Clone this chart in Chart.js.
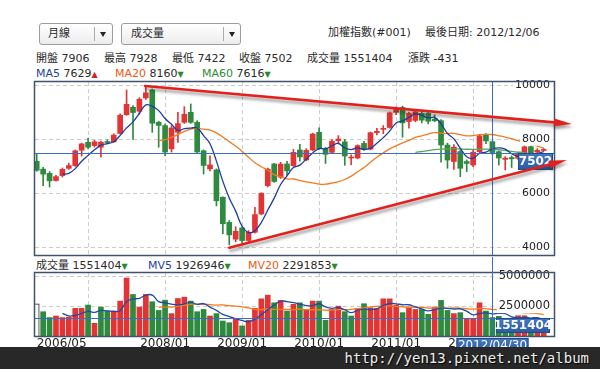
<!DOCTYPE html>
<html>
<head>
<meta charset="utf-8">
<script src="https://cdn.jsdelivr.net/npm/chart.js@4.4.1/dist/chart.umd.min.js"></script>
<style>
  body { margin: 0; width: 600px; height: 369px; overflow: hidden; background: #fff; position: relative;
         font-family: "DejaVu Sans", "Noto Sans CJK TC", sans-serif; font-size: 11px; color: #2a2a2a; }
  canvas { position: absolute; left: 0; top: 0; }
  .t { position: absolute; white-space: nowrap; line-height: 13px; }
  .sel { position: absolute; top: 23px; height: 20px; border: 1px solid #9c9c9c; border-radius: 3px;
         background: linear-gradient(#ffffff, #ececec); }
  .sel span { position: absolute; top: 3px; line-height: 13px; }
  .sel i { position: absolute; top: 3px; bottom: 3px; width: 1px; background: #aaa; }
  .sel b { position: absolute; top: 8px; width: 0; height: 0; border-left: 3.5px solid transparent;
           border-right: 3.5px solid transparent; border-top: 5px solid #222; }
  .blue { color: #1f3f9c; } .orange { color: #ee5a0e; } .green { color: #2f8a3a; }
  .up { color: #d42020; font-size: 8px; } .dn { color: #2a8a2a; font-size: 8px; }
  #banner { position: absolute; left: 0; top: 347px; width: 600px; height: 22px; background: #282828; z-index: 5; }
  #banner span { position: absolute; right: 11px; top: 2px; font-family: "DejaVu Sans Mono", monospace;
                 font-size: 14px; line-height: 18px; color: #eee; text-shadow: 1px 1px 1px #000; }
</style>
</head>
<body>
<div class="sel" style="left:39px;width:72px"><span style="left:8px">月線</span><i style="left:54px"></i><b style="left:60px"></b></div>
<div class="sel" style="left:121px;width:118px"><span style="left:9px">成交量</span><i style="left:101px"></i><b style="left:107px"></b></div>

<div class="t" style="left:328px;top:25.5px">加權指數(#001)</div>
<div class="t" style="left:425px;top:25.5px">最後日期: 2012/12/06</div>

<div class="t" style="left:36px;top:51.5px">開盤 7906</div>
<div class="t" style="left:104px;top:51.5px">最高 7928</div>
<div class="t" style="left:172px;top:51.5px">最低 7422</div>
<div class="t" style="left:239px;top:51.5px">收盤 7502</div>
<div class="t" style="left:307px;top:51.5px">成交量 1551404</div>
<div class="t" style="left:408px;top:51.5px">漲跌 -431</div>

<div class="t" style="left:36px;top:66.5px"><span class="blue">MA5</span> 7629<span class="up">▲</span></div>
<div class="t" style="left:115px;top:66.5px"><span class="orange">MA20</span> 8160<span class="dn">▼</span></div>
<div class="t" style="left:202px;top:66.5px"><span class="green">MA60</span> 7616<span class="dn">▼</span></div>

<div class="t" style="left:36px;top:258.5px">成交量 1551404<span class="dn">▼</span></div>
<div class="t" style="left:148px;top:258.5px"><span class="blue">MV5</span> 1926946<span class="dn">▼</span></div>
<div class="t" style="left:248px;top:258.5px"><span class="orange">MV20</span> 2291853<span class="dn">▼</span></div>

<canvas id="priceChart" width="600" height="369"></canvas>
<canvas id="volumeChart" width="600" height="369"></canvas>
<div id="banner"><span>http://yen13.pixnet.net/album</span></div>

<script>
// monthly candles, 2006/05 - 2012/12
const months = [
  '2006/05','2006/06','2006/07','2006/08','2006/09','2006/10','2006/11','2006/12',
  '2007/01','2007/02','2007/03','2007/04','2007/05','2007/06','2007/07','2007/08','2007/09','2007/10','2007/11','2007/12',
  '2008/01','2008/02','2008/03','2008/04','2008/05','2008/06','2008/07','2008/08','2008/09','2008/10','2008/11','2008/12',
  '2009/01','2009/02','2009/03','2009/04','2009/05','2009/06','2009/07','2009/08','2009/09','2009/10','2009/11','2009/12',
  '2010/01','2010/02','2010/03','2010/04','2010/05','2010/06','2010/07','2010/08','2010/09','2010/10','2010/11','2010/12',
  '2011/01','2011/02','2011/03','2011/04','2011/05','2011/06','2011/07','2011/08','2011/09','2011/10','2011/11','2011/12',
  '2012/01','2012/02','2012/03','2012/04','2012/05','2012/06','2012/07','2012/08','2012/09','2012/10','2012/11','2012/12'
];
const opens = [
  7180, 6890, 6735, 6470, 6650, 6920, 7020, 7590, 7880, 7760,
  7700, 7890, 7900, 8210, 8900, 9175, 9030, 9520, 9815, 8620,
  8500, 7640, 8250, 8620, 8990, 8620, 7570, 6900, 6860, 5850,
  4920, 4300, 4715, 4250, 4555, 5233, 6280, 7080, 6590, 7080,
  7020, 7598, 7230, 7600, 8250, 7635, 7510, 7940, 7900, 7300,
  7300, 7840, 7630, 8240, 8360, 8430, 8990, 9170, 8650, 8690,
  8950, 8950, 8740, 8680, 7780, 7170, 7540, 7170, 7040, 7535,
  8150, 7906, 7535, 7250, 7320, 7290, 7440, 7720, 7520, 7580
];
const highs = [
  7476, 6960, 6800, 6660, 6930, 7110, 7600, 7850, 8040, 7960,
  7930, 7970, 8200, 8930, 9815, 9240, 9530, 9940, 9850, 8660,
  8560, 8500, 8990, 9200, 9300, 8680, 7600, 7380, 6900, 5870,
  4990, 4760, 4760, 4620, 5480, 6020, 6930, 7100, 7140, 7180,
  7620, 7810, 7650, 8220, 8420, 7700, 7980, 8130, 7990, 7420,
  7790, 7920, 8260, 8400, 8500, 9000, 9180, 9220, 9000, 9080,
  9050, 9050, 8900, 8720, 7850, 7800, 7600, 7230, 7600, 8170,
  8200, 7928, 7560, 7350, 7380, 7520, 7780, 7760, 7650, 7660
];
const lows = [
  6810, 6280, 6230, 6440, 6600, 6880, 6990, 7370, 7640, 7700,
  7330, 7820, 7880, 8190, 8880, 7990, 8920, 9470, 8250, 7700,
  7380, 7520, 7880, 8580, 8580, 7500, 6710, 6820, 5530, 4500,
  4090, 4200, 4150, 4160, 4520, 5200, 6230, 6400, 6540, 6660,
  6990, 7180, 7200, 7570, 7620, 7100, 7480, 7850, 7030, 7050,
  7270, 7580, 7600, 8150, 8200, 8400, 8900, 8070, 8400, 8640,
  8600, 8560, 8640, 7150, 6920, 6880, 6610, 6800, 6980, 7500,
  7830, 7422, 7040, 6860, 6950, 7250, 7380, 7100, 7450, 7560
];
const closes = [
  6846, 6704, 6455, 6612, 6883, 7021, 7567, 7823, 7699, 7901,
  7884, 7875, 8145, 8883, 9287, 8982, 9476, 9711, 8586, 8506,
  7521, 8412, 8572, 8920, 8619, 7523, 7024, 7046, 5720, 4870,
  4460, 4591, 4248, 4557, 5210, 5993, 6890, 6432, 7077, 6826,
  7509, 7340, 7582, 8188, 7640, 7436, 7920, 8004, 7374, 7330,
  7760, 7616, 8237, 8287, 8372, 8972, 9120, 8600, 8950, 9010,
  8700, 8660, 8680, 7780, 7225, 7700, 6920, 7100, 7517, 8121,
  7933, 7502, 7301, 7296, 7270, 7450, 7715, 7300, 7590, 7610
];
const volumes = [
  2710000, 2040000, 1550000, 1680000, 1550000, 1590000, 2320000, 2320000, 2600000, 1070000,
  2430000, 2100000, 2100000, 2930000, 4870000, 3490000, 2430000, 3490000, 2880000, 2150000,
  3010000, 1880000, 3150000, 3260000, 2930000, 2040000, 2230000, 1680000, 1880000, 1260000,
  1120000, 1400000,  850000, 1320000, 2320000, 3120000, 3430000, 2790000, 2990000, 2100000,
  2660000, 2790000, 2230000, 2930000, 2930000, 1320000, 2230000, 2510000, 2040000, 1680000,
  2320000, 2710000, 2370000, 2320000, 3120000, 3120000, 2600000, 1960000, 2320000, 2230000,
  2230000, 1820000, 2430000, 2990000, 2150000, 1880000, 1960000, 1480000, 1400000, 2790000,
  2100000, 1551404, 1650000, 1320000, 1410000, 1700000, 1700000, 1410000, 1500000,  400000
];
const gridMonths = ['2007/01', '2008/01', '2009/01', '2010/01', '2011/01', '2012/01'];
const labelMonths = ['2006/05', '2008/01', '2009/01', '2010/01', '2011/01', '2012/01'];
const priceTicks = [4000, 6000, 8000, 10000];
const volumeTicks = [2500000, 5000000];
const cursorMonth = '2012/04';
const cursorDate = '2012/04/30';
// hand drawn trend lines: [month index, price]
const resistanceLine = [[16.9, 9963], [83.4, 8558]];
const supportLine = [[30.0, 3985], [82.6, 7227]];

const RED = '#e23434', GREEN = '#2e8a3e';
const cursor = months.indexOf(cursorMonth);
const gridIdx = gridMonths.map(m => months.indexOf(m));

function movingAvg(src, n) {
    return src.map((v, i) => i < n - 1 ? null : src.slice(i - n + 1, i + 1).reduce((a, b) => a + b, 0) / n);
}
function asPoints(arr) {
    return arr.map((v, i) => ({ x: i, y: v }));
}

const candleColor = closes.map((c, i) => c >= opens[i] ? RED : GREEN);
const volColor = closes.map((c, i) => i === 0 ? '#ffffff' : (c >= closes[i - 1] ? RED : GREEN));

const font11 = { family: 'DejaVu Sans', size: 11 };
const dashed = { display: false, dash: [4, 3] };

function drawArrow(ctx, x1, y1, x2, y2) {
    const ang = Math.atan2(y2 - y1, x2 - x1);
    const headLen = 18, headW = 3.8;
    const bx = x2 - headLen * Math.cos(ang), by = y2 - headLen * Math.sin(ang);
    ctx.save();
    ctx.shadowColor = 'rgba(40,40,40,0.45)';
    ctx.shadowBlur = 3;
    ctx.shadowOffsetX = 1;
    ctx.shadowOffsetY = 3;
    ctx.strokeStyle = '#e3211c';
    ctx.fillStyle = '#e3211c';
    ctx.lineWidth = 2.6;
    ctx.lineCap = 'round';
    ctx.beginPath();
    ctx.moveTo(x1, y1);
    ctx.lineTo(bx, by);
    ctx.stroke();
    ctx.beginPath();
    ctx.moveTo(x2, y2);
    ctx.lineTo(bx - headW * Math.sin(ang), by + headW * Math.cos(ang));
    ctx.lineTo(bx + headW * Math.sin(ang), by - headW * Math.cos(ang));
    ctx.closePath();
    ctx.fill();
    ctx.restore();
}

function labelBox(ctx, x, y, w, h, text, bold) {
    const g = ctx.createLinearGradient(0, y, 0, y + h);
    g.addColorStop(0, '#4579c2');
    g.addColorStop(1, '#2a5aa3');
    ctx.fillStyle = g;
    ctx.fillRect(x, y, w, h);
    ctx.strokeStyle = '#1f4c8e';
    ctx.lineWidth = 1;
    ctx.strokeRect(x + 0.5, y + 0.5, w - 1, h - 1);
    ctx.fillStyle = '#ffffff';
    ctx.font = (bold ? 'bold ' : '') + '12px "DejaVu Sans"';
    ctx.textAlign = 'center';
    ctx.textBaseline = 'middle';
    ctx.fillText(text, x + w / 2, y + h / 2 + 0.5);
}

// price panel overlays: crosshair, price label, frame, trend lines
const priceOverlay = {
    id: 'priceOverlay',
    afterDatasetsDraw(chart) {
        const { ctx, chartArea: a, scales: { x, y } } = chart;
        const cx = Math.round(x.getPixelForValue(cursor)) + 0.5;
        const cy = Math.round(y.getPixelForValue(closes[cursor])) + 0.5;
        ctx.save();
        ctx.strokeStyle = '#3a6fbf';
        ctx.lineWidth = 1;
        ctx.beginPath();
        ctx.moveTo(a.left, cy); ctx.lineTo(a.right, cy);
        ctx.moveTo(cx, a.top); ctx.lineTo(cx, a.bottom);
        ctx.stroke();
        ctx.restore();
    },
    afterDraw(chart) {
        const { ctx, chartArea: a, scales: { x, y } } = chart;
        const cy = Math.round(y.getPixelForValue(closes[cursor]));
        ctx.save();
        ctx.strokeStyle = '#41526b';
        ctx.lineWidth = 1.5;
        ctx.strokeRect(a.left - 0.5, a.top - 0.5, a.width + 1, a.height + 1);
        labelBox(ctx, a.right - 36, cy, 35, 17, String(closes[cursor]), true);
        [resistanceLine, supportLine].forEach(([p, q]) => {
            drawArrow(ctx, x.getPixelForValue(p[0]), y.getPixelForValue(p[1]),
                x.getPixelForValue(q[0]), y.getPixelForValue(q[1]));
        });
        ctx.restore();
    }
};

// volume panel overlays
const volumeOverlay = {
    id: 'volumeOverlay',
    afterDraw(chart) {
        const { ctx, chartArea: a, scales: { x, y } } = chart;
        const cx = Math.round(x.getPixelForValue(cursor)) + 0.5;
        const cy = Math.round(y.getPixelForValue(volumes[cursor])) + 0.5;
        ctx.save();
        ctx.strokeStyle = '#41526b';
        ctx.lineWidth = 1.5;
        ctx.strokeRect(a.left - 0.5, a.top - 0.5, a.width + 1, a.height + 1);
        ctx.strokeStyle = '#3a6fbf';
        ctx.lineWidth = 1;
        ctx.beginPath();
        ctx.moveTo(a.left, cy); ctx.lineTo(a.right, cy);
        ctx.moveTo(cx, a.top - 16); ctx.lineTo(cx, a.bottom);
        ctx.stroke();
        labelBox(ctx, a.right - 58, cy - 0.5, 54, 15, String(volumes[cursor]), true);
        labelBox(ctx, cx - 36, a.bottom + 2, 72, 15, cursorDate, false);
        ctx.restore();
    }
};

// Price chart: candles (wick + body floating bars) and moving averages
new Chart(document.getElementById('priceChart').getContext('2d'), {
    type: 'bar',
    data: {
        datasets: [
            { type: 'line', data: asPoints(movingAvg(closes, 5)), borderColor: '#1d3d9e', borderWidth: 1.3, pointRadius: 0, tension: 0.4, order: 0 },
            { type: 'line', data: asPoints(movingAvg(closes, 20)), borderColor: '#f47a1e', borderWidth: 1.3, pointRadius: 0, tension: 0.4, order: 0 },
            { type: 'line', data: asPoints(movingAvg(closes, 60)), borderColor: '#5aa55a', borderWidth: 1.3, pointRadius: 0, tension: 0.4, order: 0 },
            { data: months.map((m, i) => ({ x: i, y: [opens[i], closes[i]] })), backgroundColor: candleColor,
              barThickness: 5, minBarLength: 1, grouped: false, order: 1 },
            { data: months.map((m, i) => ({ x: i, y: [lows[i], highs[i]] })), backgroundColor: candleColor,
              barThickness: 1, grouped: false, order: 2 }
        ]
    },
    options: {
        responsive: false,
        animation: false,
        devicePixelRatio: 1,
        events: [],
        layout: { padding: { left: 35, right: 46, top: 82, bottom: 114 } },
        plugins: { legend: { display: false }, tooltip: { enabled: false } },
        scales: {
            x: {
                type: 'linear', min: -0.27, max: 80.6, offset: false,
                afterBuildTicks: s => { s.ticks = gridIdx.map(v => ({ value: v })); },
                ticks: { display: false },
                grid: { offset: false, drawTicks: false, color: '#cccccc' },
                border: dashed,
                afterFit: s => { s.height = 0; s.paddingLeft = 0; s.paddingRight = 0; }
            },
            y: {
                type: 'linear', position: 'right', min: 3715, max: 10111, beginAtZero: false,
                afterBuildTicks: s => { s.ticks = priceTicks.map(v => ({ value: v })); },
                ticks: { mirror: true, padding: -4, z: 1, color: '#222', font: font11,
                         showLabelBackdrop: true, backdropColor: '#ffffff',
                         backdropPadding: { top: 0, bottom: 0, left: 2, right: 1 },
                         callback: v => String(v) },
                grid: { drawTicks: false, color: '#cccccc' },
                border: dashed,
                afterFit: s => { s.width = 0; s.paddingTop = 0; s.paddingBottom = 0; }
            }
        }
    },
    plugins: [priceOverlay]
});

// Volume chart
new Chart(document.getElementById('volumeChart').getContext('2d'), {
    type: 'bar',
    data: {
        datasets: [
            { type: 'line', data: asPoints(movingAvg(volumes, 5)), borderColor: '#1f4aa8', borderWidth: 1.3, pointRadius: 0, tension: 0.4, order: 0 },
            { type: 'line', data: asPoints(movingAvg(volumes, 20)), borderColor: '#f47a1e', borderWidth: 1.3, pointRadius: 0, tension: 0.4, order: 0 },
            { data: asPoints(volumes), backgroundColor: volColor,
              borderColor: volumes.map((v, i) => i === 0 ? '#222222' : 'rgba(0,0,0,0)'),
              borderWidth: volumes.map((v, i) => i === 0 ? 1 : 0),
              barThickness: 5, grouped: false, order: 1 }
        ]
    },
    options: {
        responsive: false,
        animation: false,
        devicePixelRatio: 1,
        events: [],
        layout: { padding: { left: 35, right: 46, top: 273, bottom: 19 } },
        plugins: { legend: { display: false }, tooltip: { enabled: false } },
        scales: {
            x: {
                type: 'linear', min: -0.27, max: 80.6, offset: false,
                afterBuildTicks: s => { s.ticks = [0, ...gridIdx, 80].map(v => ({ value: v })); },
                ticks: { align: 'inner', autoSkip: false, maxRotation: 0, padding: 1, color: '#222',
                         font: { family: 'DejaVu Sans', size: 12 },
                         callback: v => labelMonths.includes(months[v]) ? months[v] : '' },
                grid: { offset: false, drawTicks: false,
                        color: c => gridIdx.includes(c.tick && c.tick.value) ? '#cccccc' : 'rgba(0,0,0,0)' },
                border: dashed,
                afterFit: s => { s.height = 14; s.paddingLeft = 0; s.paddingRight = 0; }
            },
            y: {
                type: 'linear', position: 'right', min: 0, max: 5290000,
                afterBuildTicks: s => { s.ticks = volumeTicks.map(v => ({ value: v })); },
                ticks: { mirror: true, padding: -4, z: 1, color: '#222', font: { family: 'DejaVu Sans', size: 11.5 },
                         showLabelBackdrop: true, backdropColor: '#ffffff',
                         backdropPadding: { top: 0, bottom: 0, left: 2, right: 1 },
                         callback: v => String(v) },
                grid: { drawTicks: false, color: '#cccccc' },
                border: dashed,
                afterFit: s => { s.width = 0; s.paddingTop = 0; s.paddingBottom = 0; }
            }
        }
    },
    plugins: [volumeOverlay]
});
</script>
</body>
</html>
